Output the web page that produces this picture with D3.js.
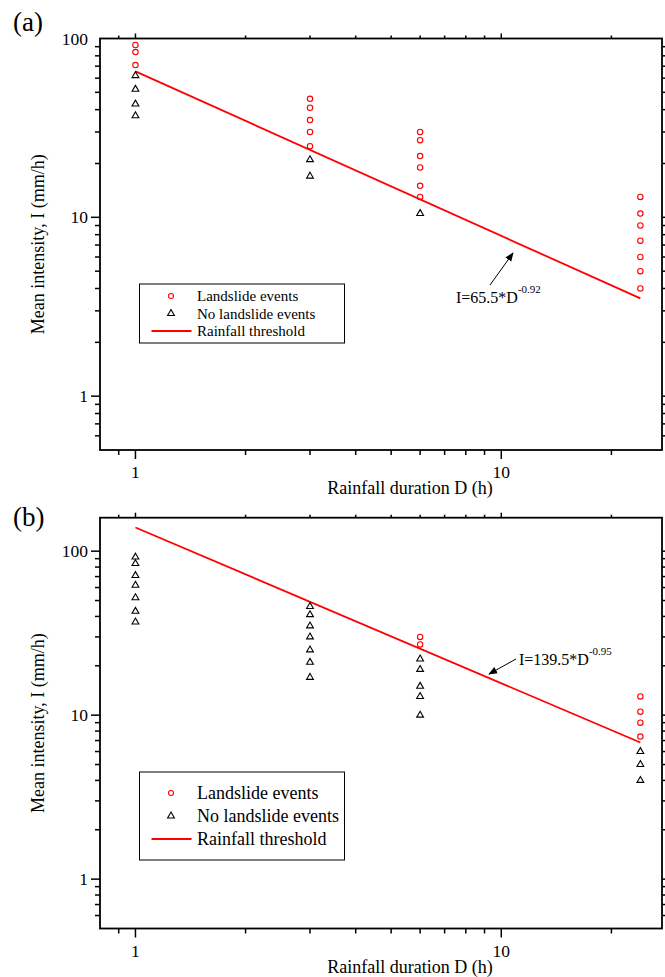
<!DOCTYPE html>
<html>
<head>
<meta charset="utf-8">
<script src="https://cdn.jsdelivr.net/npm/d3@7"></script>
<style>
  body { margin: 0; background: #fff; }
  text { font-family: "Liberation Serif", "Times New Roman", serif; fill: #000; }
</style>
</head>
<body>
<div id="chart"></div>
<script>

// durations (h) and tick labels
var xTickLabels = [1, 10];
var yTickLabels = [1, 10, 100];

// panel (a)
var aLandslideD = [1, 1, 1, 3, 3, 3, 3, 3, 6, 6, 6, 6, 6, 6, 24, 24, 24, 24, 24, 24, 24];
var aLandslideI = [92, 84, 71, 46, 41, 35, 30, 25, 30, 27, 22, 19, 15, 13, 13, 10.5, 9, 7.4, 6, 5, 4];
var aNoLandslideD = [1, 1, 1, 1, 3, 3, 6];
var aNoLandslideI = [62, 52, 43, 37, 21, 17, 10.5];
var aThresholdD = [1, 24];
var aThresholdI = [65.5, 3.52];

// panel (b)
var bLandslideD = [6, 6, 24, 24, 24, 24];
var bLandslideI = [30, 27, 13, 10.5, 9, 7.4];
var bNoLandslideD = [1, 1, 1, 1, 1, 1, 1, 3, 3, 3, 3, 3, 3, 3, 6, 6, 6, 6, 6, 24, 24, 24];
var bNoLandslideI = [92, 84, 71, 62, 52, 43, 37, 46, 41, 35, 30, 25, 21, 17, 22, 19, 15, 13, 10, 6, 5, 4];
var bThresholdD = [1, 24];
var bThresholdI = [139.5, 6.81];

var legendLabels = ["Landslide events", "No landslide events", "Rainfall threshold"];

var svg = d3.select("#chart")
  .append("svg")
  .attr("width", 665)
  .attr("height", 977);

svg.append("rect").attr("width", 665).attr("height", 977).attr("fill", "#fff");

svg.append("defs").append("marker")
  .attr("id", "arrow")
  .attr("viewBox", "0 0 10 10")
  .attr("refX", 9)
  .attr("refY", 5)
  .attr("markerWidth", 9)
  .attr("markerHeight", 9)
  .attr("markerUnits", "userSpaceOnUse")
  .attr("orient", "auto")
  .append("path")
  .attr("d", "M0,1 L10,5 L0,9 z")
  .attr("fill", "#000");

var zip = (xs, ys) => xs.map((x, i) => ({ d: x, i: ys[i] }));

function drawPanel(p) {
  var left = 100, right = 662;

  var x = d3.scaleLog().domain([0.8, 27.5]).range([left, right]);
  var y = d3.scaleLog().domain([0.5, p.yMax]).range([p.bottom, p.top]);

  var g = svg.append("g");

  // minor/major ticks
  var xTicks = x.ticks().filter(v => v > 0.8 && v < 27.5);
  var yTicks = y.ticks().filter(v => v > 0.5 && v < p.yMax);
  var isMajor = v => Math.abs(Math.log10(v) - Math.round(Math.log10(v))) < 1e-6;

  xTicks.forEach(v => {
    var len = isMajor(v) ? 9 : 5;
    g.append("line").attr("x1", x(v)).attr("x2", x(v))
      .attr("y1", p.bottom).attr("y2", p.bottom + len)
      .attr("stroke", "#000").attr("stroke-width", 1.5);
    g.append("line").attr("x1", x(v)).attr("x2", x(v))
      .attr("y1", p.top).attr("y2", p.top - (isMajor(v) ? 5 : 3))
      .attr("stroke", "#000").attr("stroke-width", 1.5);
  });
  yTicks.forEach(v => {
    var len = isMajor(v) ? 9 : 5;
    g.append("line").attr("x1", left).attr("x2", left - len)
      .attr("y1", y(v)).attr("y2", y(v))
      .attr("stroke", "#000").attr("stroke-width", 1.5);
    g.append("line").attr("x1", right).attr("x2", right + (isMajor(v) ? 5 : 3))
      .attr("y1", y(v)).attr("y2", y(v))
      .attr("stroke", "#000").attr("stroke-width", 1.5);
  });

  // tick labels
  g.selectAll(".xl").data(xTickLabels).enter().append("text")
    .attr("x", d => x(d))
    .attr("y", p.bottom + 28)
    .attr("text-anchor", "middle")
    .attr("font-size", "17.5px")
    .text(d => d);

  g.selectAll(".yl").data(yTickLabels.filter(v => v <= p.yMax)).enter().append("text")
    .attr("x", left - 12)
    .attr("y", d => y(d))
    .attr("dy", "0.35em")
    .attr("text-anchor", "end")
    .attr("font-size", "17.5px")
    .text(d => d);

  // frame
  g.append("rect")
    .attr("x", left).attr("y", p.top)
    .attr("width", right - left).attr("height", p.bottom - p.top)
    .attr("fill", "none").attr("stroke", "#000").attr("stroke-width", 1.8);

  // threshold line
  var line = d3.line().x(d => x(d.d)).y(d => y(d.i));
  g.append("path")
    .datum(zip(p.thrD, p.thrI))
    .attr("d", line)
    .attr("fill", "none")
    .attr("stroke", "#ff0000")
    .attr("stroke-width", 1.8);

  // landslide points
  g.selectAll(".ls").data(zip(p.lsD, p.lsI)).enter().append("circle")
    .attr("cx", d => x(d.d))
    .attr("cy", d => y(d.i))
    .attr("r", 2.7)
    .attr("fill", "none")
    .attr("stroke", "#ff0000")
    .attr("stroke-width", 1.1);

  var tri = d3.symbol().type(d3.symbolTriangle).size(20);
  g.selectAll(".nls").data(zip(p.nlsD, p.nlsI)).enter().append("path")
    .attr("d", tri)
    .attr("transform", d => `translate(${x(d.d)},${y(d.i)})`)
    .attr("fill", "none")
    .attr("stroke", "#000")
    .attr("stroke-width", 1.1);

  // legend
  var lg = g.append("g").attr("transform", `translate(139.5, ${p.legendTop})`);
  var rowH = p.legendRow, pad = p.legendPad;
  lg.append("rect")
    .attr("width", 205).attr("height", pad * 2 + rowH * 2)
    .attr("fill", "#fff").attr("stroke", "#000").attr("stroke-width", 1);
  lg.append("circle").attr("cx", 31.5).attr("cy", pad).attr("r", 2.5)
    .attr("fill", "none").attr("stroke", "#ff0000").attr("stroke-width", 1.1);
  lg.append("path").attr("d", tri).attr("transform", `translate(31.5,${pad + rowH})`)
    .attr("fill", "none").attr("stroke", "#000").attr("stroke-width", 1.1);
  lg.append("line").attr("x1", 12).attr("x2", 52)
    .attr("y1", pad + rowH * 2).attr("y2", pad + rowH * 2)
    .attr("stroke", "#ff0000").attr("stroke-width", 1.8);
  lg.selectAll(".lt").data(legendLabels).enter().append("text")
    .attr("x", 57.5)
    .attr("y", (d, k) => pad + k * rowH)
    .attr("dy", "0.35em")
    .attr("font-size", p.legendFont)
    .text(d => d);

  // annotation
  var t = g.append("text")
    .attr("x", p.eqX).attr("y", p.eqY)
    .attr("font-size", "16px");
  t.append("tspan").text(p.eqText);
  t.append("tspan").attr("dy", -10).attr("font-size", "11px").text(p.eqSup);

  g.append("line")
    .attr("x1", p.arrow[0]).attr("y1", p.arrow[1])
    .attr("x2", p.arrow[2]).attr("y2", p.arrow[3])
    .attr("stroke", "#000").attr("stroke-width", 1)
    .attr("marker-end", "url(#arrow)");

  // axis titles
  g.append("text")
    .attr("x", 410).attr("y", p.bottom + 44)
    .attr("text-anchor", "middle")
    .attr("font-size", "18px")
    .text("Rainfall duration D (h)");

  g.append("text")
    .attr("transform", `translate(44, ${(p.top + p.bottom) / 2}) rotate(-90)`)
    .attr("text-anchor", "middle")
    .attr("font-size", "18px")
    .text("Mean intensity, I (mm/h)");

  g.append("text")
    .attr("x", 13).attr("y", p.labelY)
    .attr("font-size", "27px")
    .text(p.label);
}

drawPanel({
  top: 38.5, bottom: 450, yMax: 100,
  lsD: aLandslideD, lsI: aLandslideI, nlsD: aNoLandslideD, nlsI: aNoLandslideI,
  thrD: aThresholdD, thrI: aThresholdI,
  legendTop: 284, legendRow: 17.5, legendPad: 12, legendFont: "15px",
  eqText: "I=65.5*D", eqSup: "-0.92", eqX: 456, eqY: 303,
  arrow: [490, 285, 513, 253],
  label: "(a)", labelY: 31
});

drawPanel({
  top: 517.7, bottom: 928.5, yMax: 160,
  lsD: bLandslideD, lsI: bLandslideI, nlsD: bNoLandslideD, nlsI: bNoLandslideI,
  thrD: bThresholdD, thrI: bThresholdI,
  legendTop: 772, legendRow: 23, legendPad: 21, legendFont: "18px",
  eqText: "I=139.5*D", eqSup: "-0.95", eqX: 519, eqY: 665,
  arrow: [516, 659, 489, 674],
  label: "(b)", labelY: 526
});

</script>
</body>
</html>
